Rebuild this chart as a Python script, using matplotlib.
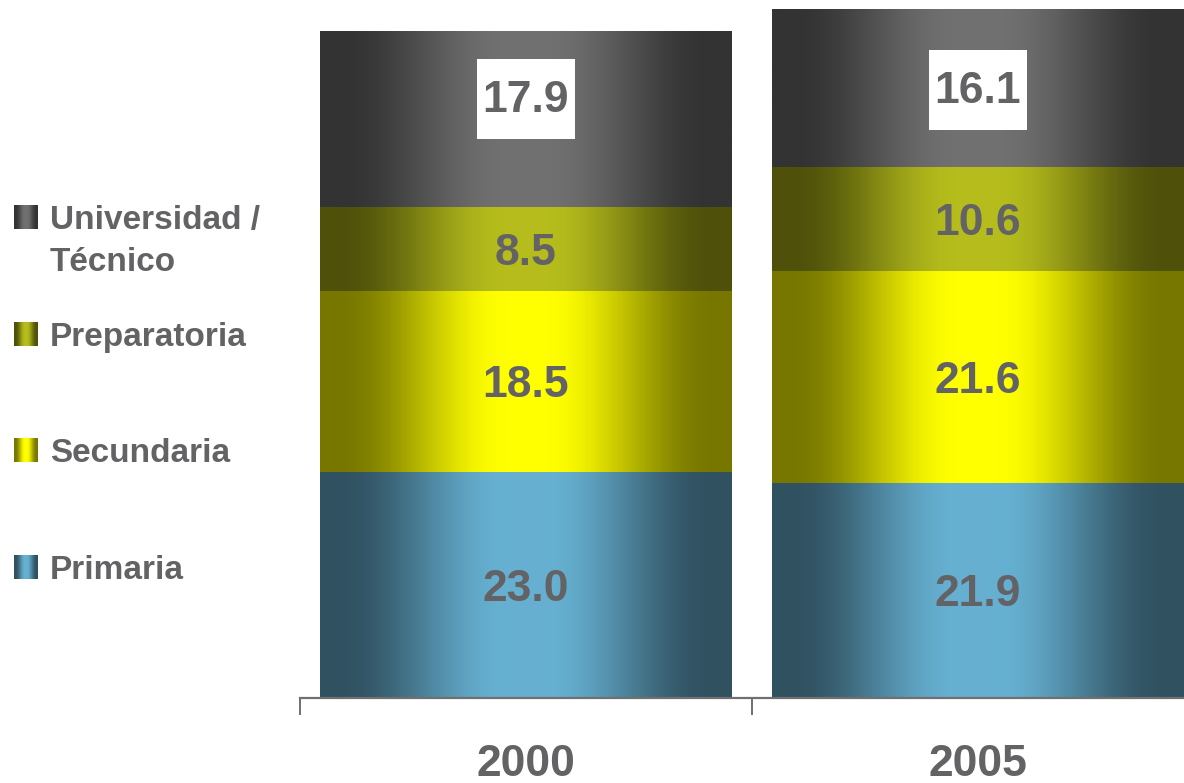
import numpy as np
import matplotlib
matplotlib.use("Agg")
import matplotlib.pyplot as plt
from matplotlib.patches import Rectangle
from matplotlib.transforms import offset_copy

# data
years = ["2000", "2005"]
levels = ["Primaria", "Secundaria", "Preparatoria", "Universidad /\nTécnico"]
primaria = [23.0, 21.9]
secundaria = [18.5, 21.6]
preparatoria = [8.5, 10.6]
universidad = [17.9, 16.1]

# (edge colour, centre colour) for each level's cylinder shading
shades = [
    ((0.19, 0.32, 0.38), (0.40, 0.69, 0.82)),
    ((0.47, 0.47, 0.00), (1.00, 1.00, 0.00)),
    ((0.31, 0.32, 0.04), (0.71, 0.74, 0.11)),
    ((0.20, 0.20, 0.20), (0.44, 0.44, 0.44)),
]
txt = "#636366"

plt.rcParams["font.family"] = ["Liberation Sans", "DejaVu Sans"]
plt.rcParams["font.weight"] = "bold"


def gradient(edge, centre, n=256):
    t = np.linspace(0, 1, n)
    d = np.abs(2 * t - 1)
    f = np.clip((0.9 - d) / 0.8, 0, 1)
    f = f * f * (3 - 2 * f)
    edge = np.array(edge)
    centre = np.array(centre)
    row = edge + (centre - edge) * f[:, None]
    return row[None, :, :]


fig = plt.figure(figsize=(11.84, 7.83), dpi=100)
ax = fig.add_axes([300 / 1184, 85 / 783, 884 / 1184, 698 / 783])

x = np.arange(len(years))
series = [primaria, secundaria, preparatoria, universidad]
bottom = np.zeros(len(years))
label_nudge = [2.1, -0.2]
plain_tr = offset_copy(ax.transData, fig=fig, y=-4, units="dots")
boxed_tr = offset_copy(ax.transData, fig=fig, y=-1.5, units="dots")
for k, vals in enumerate(series):
    bars = ax.bar(x, vals, width=0.9115, bottom=bottom, color="none", linewidth=0)
    img = gradient(*shades[k])
    for i, b in enumerate(bars):
        x0, y0 = b.get_x(), b.get_y()
        w, h = b.get_width(), b.get_height()
        ax.imshow(img, extent=[x0, x0 + w, y0, y0 + h], aspect="auto",
                  interpolation="bilinear", zorder=1)
        yc = y0 + h / 2
        tr = plain_tr
        if k == 3:
            yc += label_nudge[i]
            tr = boxed_tr
            ax.add_patch(Rectangle((x0 + w / 2 - 0.1085, yc - 4.08), 0.217, 8.15,
                                   facecolor="white", edgecolor="none", zorder=2))
        ax.text(x0 + w / 2, yc, f"{vals[i]:.1f}", ha="center", va="center",
                fontsize=32, fontweight="bold", color=txt, zorder=3, transform=tr)
    bottom += np.array(vals)

ax.set_xlim(-0.5, 1.456)
ax.set_ylim(0, 71.15)
for s in ["top", "right", "left"]:
    ax.spines[s].set_visible(False)
ax.spines["bottom"].set_color("#707070")
ax.spines["bottom"].set_linewidth(1.6)
ax.spines["bottom"].set_zorder(4)
ax.set_yticks([])
ax.set_xticks(x)
ax.set_xticklabels(years, fontsize=32, fontweight="bold", color=txt)
ax.tick_params(axis="x", which="major", length=0, pad=33)
ax.set_xticks([-0.5, 0.5], minor=True)
ax.tick_params(axis="x", which="minor", length=12, width=1.4, color="#707070",
               direction="out")

# legend at the left, drawn in pixel space
lax = fig.add_axes([0, 0, 1, 1], zorder=5)
lax.axis("off")
leg_rows = [555, 438, 322, 205]
for k, name in enumerate(levels):
    top = leg_rows[k]
    lax.imshow(gradient(*shades[k], n=32), extent=[14, 38, top + 24, top],
               aspect="auto", interpolation="bilinear")
    lax.text(50, top, name, ha="left", va="top", fontsize=24,
             fontweight="bold", color=txt, linespacing=1.45)
lax.set_xlim(0, 1184)
lax.set_ylim(783, 0)

fig.savefig("out.png", dpi=100)
